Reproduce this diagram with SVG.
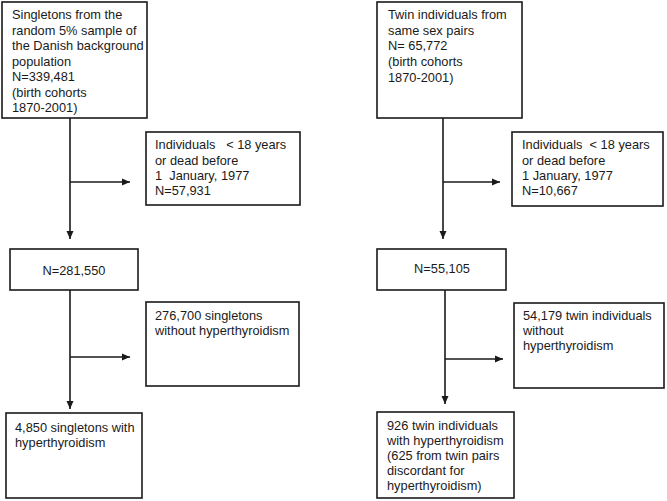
<svg xmlns="http://www.w3.org/2000/svg" width="667" height="501" viewBox="0 0 667 501">
<style>
.box{fill:#fff;stroke:#1a1a1a;stroke-width:1.6}
text{font-family:"Liberation Sans",Arial,sans-serif;font-size:12.8px;fill:#1a1a1a;white-space:pre}
.c{stroke:#1a1a1a;stroke-width:1.6;fill:none}
</style>
<defs>
<marker id="ah" viewBox="0 0 8 8" refX="8" refY="4" markerWidth="8" markerHeight="8" markerUnits="userSpaceOnUse" orient="auto">
<path d="M0,0.5 L8,4 L0,7.5 z" fill="#1a1a1a"/>
</marker>
</defs>
<g id="connectors">
<line class="c" x1="70" y1="118" x2="70" y2="239" marker-end="url(#ah)"/>
<line class="c" x1="70" y1="182" x2="130" y2="182" marker-end="url(#ah)"/>
<line class="c" x1="70" y1="290" x2="70" y2="409" marker-end="url(#ah)"/>
<line class="c" x1="70" y1="357" x2="130" y2="357" marker-end="url(#ah)"/>
<line class="c" x1="443" y1="118" x2="443" y2="239" marker-end="url(#ah)"/>
<line class="c" x1="443" y1="182" x2="500" y2="182" marker-end="url(#ah)"/>
<line class="c" x1="445" y1="290" x2="445" y2="404" marker-end="url(#ah)"/>
<line class="c" x1="445" y1="359" x2="503" y2="359" marker-end="url(#ah)"/>
</g>
<g id="n1">
<rect class="box" x="2" y="2" width="145" height="116"/>
<text x="12" y="19">Singletons from the</text>
<text x="12" y="35">random 5% sample of</text>
<text x="12" y="50">the Danish background</text>
<text x="12" y="66">population</text>
<text x="12" y="81">N=339,481</text>
<text x="12" y="97">(birth cohorts</text>
<text x="12" y="112">1870-2001)</text>
</g>
<g id="n2">
<rect class="box" x="146" y="132" width="154" height="73"/>
<text x="155" y="149">Individuals   &lt; 18 years</text>
<text x="155" y="165">or dead before</text>
<text x="155" y="180">1  January, 1977</text>
<text x="155" y="195">N=57,931</text>
</g>
<g id="n3">
<rect class="box" x="10" y="249" width="128" height="41"/>
<text x="74" y="275" text-anchor="middle">N=281,550</text>
</g>
<g id="n4">
<rect class="box" x="146" y="302" width="153" height="84"/>
<text x="155" y="320">276,700 singletons</text>
<text x="155" y="335">without hyperthyroidism</text>
</g>
<g id="n5">
<rect class="box" x="6" y="413" width="136" height="85"/>
<text x="15" y="432">4,850 singletons with</text>
<text x="15" y="447">hyperthyroidism</text>
</g>
<g id="n6">
<rect class="box" x="377" y="2" width="145" height="116"/>
<text x="388" y="19">Twin individuals from</text>
<text x="388" y="35">same sex pairs</text>
<text x="388" y="50">N= 65,772</text>
<text x="388" y="66">(birth cohorts</text>
<text x="388" y="82">1870-2001)</text>
</g>
<g id="n7">
<rect class="box" x="512" y="132" width="151" height="74"/>
<text x="522" y="149">Individuals  &lt; 18 years</text>
<text x="522" y="165">or dead before</text>
<text x="522" y="180">1 January, 1977</text>
<text x="522" y="195">N=10,667</text>
</g>
<g id="n8">
<rect class="box" x="377" y="249" width="129" height="41"/>
<text x="442" y="273" text-anchor="middle">N=55,105</text>
</g>
<g id="n9">
<rect class="box" x="514" y="303" width="150" height="85"/>
<text x="523" y="320">54,179 twin individuals</text>
<text x="523" y="335">without</text>
<text x="523" y="350">hyperthyroidism</text>
</g>
<g id="n10">
<rect class="box" x="377" y="412" width="137" height="86"/>
<text x="387" y="430">926 twin individuals</text>
<text x="387" y="445">with hyperthyroidism</text>
<text x="387" y="460">(625 from twin pairs</text>
<text x="387" y="475">discordant for</text>
<text x="387" y="490">hyperthyroidism)</text>
</g>
</svg>
